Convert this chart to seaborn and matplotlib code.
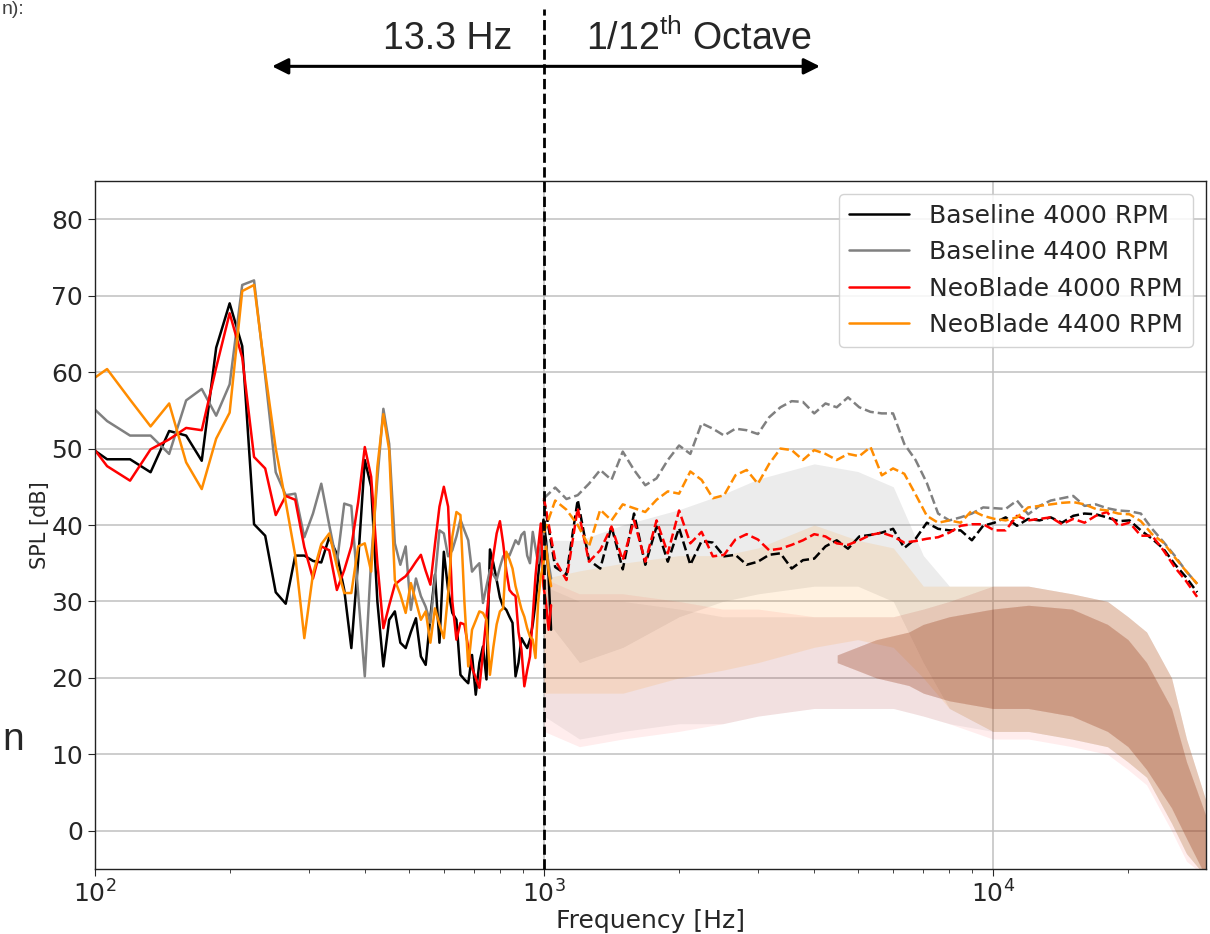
import numpy as np
import matplotlib
matplotlib.use("Agg")
import matplotlib.pyplot as plt
import seaborn as sns

sns.set_style("ticks")
plt.rcParams["font.family"] = ["DejaVu Sans"]

# ---- narrowband spectra below 1 kHz (13.3 Hz bins) ----
nb_freq = np.arange(7, 79) * 13.3

base4000_nb = [51.0, 48.6, 48.6, 46.9, 52.3, 51.7, 48.4, 63.2, 69.0, 63.4,
               40.1, 38.6, 31.2, 29.7, 36.0, 36.0, 35.3, 35.1, 38.4, 36.2,
               31.5, 23.9, 35.4, 48.5, 45.0, 30.0, 21.5, 27.6, 28.7, 24.6,
               23.9, 26.0, 27.8, 22.8, 21.7, 28.0, 33.5, 24.6, 36.5, 31.5,
               28.5, 27.6, 20.4, 19.8, 19.3, 23.0, 17.8, 22.0, 24.1, 19.8,
               36.8, 35.0, 32.8, 30.5, 29.3, 28.9, 28.0, 27.2, 20.2, 22.0,
               25.2, 24.5, 23.9, 25.0, 27.0, 29.8, 33.3, 37.0, 40.7, 38.0,
               33.3, 26.3]
base4400_nb = [56.8, 53.6, 51.7, 51.7, 49.3, 56.3, 57.8, 54.3, 58.4, 71.4,
               72.0, 59.5, 46.9, 43.9, 44.1, 38.4, 41.5, 45.4, 40.0, 35.0,
               42.8, 42.5, 31.0, 20.2, 35.5, 46.0, 55.2, 50.6, 37.6, 34.8,
               37.2, 28.9, 33.0, 30.7, 29.3, 27.2, 33.0, 39.3, 38.9, 35.9,
               36.7, 38.5, 40.7, 39.3, 38.0, 33.9, 34.5, 35.0, 29.8, 32.0,
               34.1, 33.5, 32.8, 34.5, 35.9, 36.3, 36.0, 37.0, 38.0, 37.5,
               38.7, 39.1, 36.0, 35.0, 39.1, 37.0, 35.0, 37.0, 38.9, 37.0,
               35.0, 33.0]
neo4000_nb = [52.2, 47.7, 45.8, 49.9, 51.2, 52.7, 52.4, 60.6, 67.7, 61.9,
              48.9, 47.4, 41.3, 43.8, 43.3, 37.1, 33.0, 37.2, 36.7, 31.5,
              34.1, 37.2, 43.0, 50.2, 46.3, 35.0, 26.5, 29.5, 32.2, 32.8,
              33.3, 34.2, 35.2, 36.1, 34.0, 32.2, 37.5, 42.4, 45.0, 42.4,
              30.0, 25.0, 27.2, 27.0, 24.0, 21.3, 20.0, 18.7, 23.3, 28.0,
              32.4, 36.0, 38.9, 40.5, 37.6, 34.0, 31.5, 31.0, 30.7, 26.0,
              23.7, 18.9, 21.0, 22.8, 28.0, 33.3, 37.0, 40.2, 32.0, 29.8,
              26.3, 29.5]
neo4400_nb = [58.0, 60.4, 56.4, 52.9, 55.9, 48.2, 44.7, 51.3, 54.7, 70.6,
              71.4, 60.0, 50.0, 43.0, 36.0, 25.2, 33.6, 37.5, 38.9, 34.6,
              31.1, 31.1, 37.2, 37.6, 33.9, 47.6, 54.5, 49.8, 32.8, 30.9,
              28.5, 32.4, 30.0, 27.6, 28.7, 24.6, 29.1, 27.0, 25.2, 31.0,
              38.5, 41.7, 41.3, 30.0, 21.5, 26.3, 27.5, 28.7, 28.5, 27.6,
              20.4, 24.0, 27.0, 28.7, 29.1, 36.5, 35.5, 34.3, 32.0, 30.5,
              29.0, 28.0, 26.5, 25.4, 25.0, 22.6, 30.0, 33.3, 35.0, 37.2,
              34.0, 32.0]

# ---- 1/12 octave bands above 1 kHz ----
oct_freq = 1000 * 2 ** (np.arange(59) / 12)

base4000_oct = [43.3, 34.5, 33.5, 43.3, 35.4, 34.3, 39.8, 34.2, 41.5, 34.8,
                39.8, 35.2, 39.6, 34.8, 37.9, 37.7, 35.9, 36.1, 34.8, 35.2,
                36.1, 36.3, 34.3, 35.4, 35.6, 37.2, 38.0, 36.9, 38.5, 38.7,
                39.0, 39.5, 37.0, 38.2, 40.3, 39.5, 39.3, 39.3, 38.0, 39.9,
                40.3, 41.0, 39.9, 40.8, 40.6, 41.0, 40.3, 41.2, 41.5, 41.4,
                41.0, 40.5, 40.6, 39.3, 38.2, 36.9, 34.9, 33.2, 31.2]
base4400_oct = [43.5, 44.9, 43.4, 43.9, 45.4, 47.2, 45.9, 49.6, 47.2, 45.2,
                46.1, 48.5, 50.4, 49.3, 53.3, 52.6, 51.7, 52.6, 52.4, 51.9,
                54.1, 55.4, 56.2, 56.1, 54.6, 55.9, 55.4, 56.7, 55.4, 54.8,
                54.6, 54.6, 50.6, 48.5, 45.5, 41.5, 40.6, 41.0, 41.5, 42.3,
                42.2, 42.1, 43.2, 41.4, 42.5, 43.2, 43.5, 43.8, 42.5, 42.7,
                42.2, 41.9, 41.8, 41.5, 39.5, 37.8, 36.0, 34.0, 32.3]
neo4000_oct = [43.5, 35.4, 32.8, 42.2, 35.2, 36.7, 39.8, 35.4, 40.6, 35.2,
               40.6, 36.3, 41.9, 37.6, 39.1, 35.9, 36.1, 38.1, 38.8, 38.1,
               36.7, 36.9, 37.4, 38.0, 38.8, 38.5, 37.6, 37.4, 38.0, 38.7,
               39.0, 38.5, 37.7, 37.9, 38.2, 38.4, 39.0, 39.9, 40.1, 40.1,
               39.3, 39.3, 41.2, 40.6, 40.8, 41.0, 40.1, 40.8, 40.3, 41.2,
               41.7, 39.9, 40.3, 38.6, 38.6, 36.7, 34.5, 32.7, 30.6]
neo4400_oct = [39.0, 43.2, 42.0, 40.0, 37.2, 42.0, 40.6, 42.7, 42.2, 41.7,
               43.3, 44.4, 44.1, 47.0, 45.9, 43.5, 43.9, 46.5, 47.2, 45.4,
               48.0, 50.0, 49.8, 48.5, 49.8, 49.3, 48.5, 49.3, 49.0, 50.2,
               46.5, 47.4, 46.7, 44.0, 41.2, 40.3, 40.6, 40.3, 41.9, 41.2,
               40.8, 40.6, 41.0, 42.3, 42.5, 42.7, 42.9, 43.0, 42.7, 42.1,
               41.9, 41.5, 41.4, 40.5, 38.8, 37.7, 35.8, 34.0, 32.3]

# ---- faint narrowband spectra above 1 kHz, drawn as min / max envelopes ----
env_freq = [1000, 1200, 1500, 2000, 2500, 3000, 4000, 5000, 6000, 7000,
            8000, 10000, 12000, 15000, 18000, 20000, 22000, 25000, 27000, 29800]
base4400_lo = [28, 22, 24, 28, 30, 31, 32, 32, 30, 22,
               16, 13, 13, 12, 11, 9, 7, 1, -3, -6]
base4400_hi = [38, 38, 40, 42, 44, 46, 48, 47, 45, 36,
               32, 32, 32, 31, 30, 28, 26, 20, 12, 4]
neo4400_lo = [18, 18, 18, 20, 21, 22, 24, 25, 24, 20,
              16, 13, 13, 12, 11, 9, 7, 1, -3, -6]
neo4400_hi = [33, 34, 35, 36, 36, 37, 40, 38, 37, 32,
              32, 32, 32, 31, 30, 28, 26, 20, 12, 4]
base4000_lo = [15, 12, 13, 14, 14, 15, 16, 16, 16, 15,
               14, 13, 13, 12, 11, 9, 7, 1, -3, -6]
base4000_hi = [32, 30, 30, 29, 28, 28, 28, 28, 28, 29,
               30, 32, 32, 31, 30, 28, 26, 20, 12, 4]
neo4000_lo = [13, 11, 12, 13, 14, 15, 16, 16, 16, 15,
              14, 12, 12, 11, 10, 8, 6, 0, -4, -6]
neo4000_hi = [33, 31, 31, 30, 29, 29, 28, 28, 28, 29,
              30, 32, 32, 31, 30, 28, 26, 20, 12, 4]

# dense part of the narrowband spectra at high frequency (all four overlap)
core_freq = [4500, 5500, 6500, 7000, 8000, 10000, 12000, 15000, 18000,
             20000, 22000, 25000, 27000, 29800]
core_lo = [22, 20, 19, 18, 17, 16, 16, 15, 13, 11, 8, 3, -1, -6]
core_hi = [23, 25, 26, 27, 28, 29, 29.5, 29, 27, 25, 22, 16, 9, 2]

names = ["Baseline 4000 RPM", "Baseline 4400 RPM",
         "NeoBlade 4000 RPM", "NeoBlade 4400 RPM"]
colors = ["black", "grey", "red", "darkorange"]
sparse_alpha = [0.05, 0.15, 0.07, 0.12]
nb_data = [base4000_nb, base4400_nb, neo4000_nb, neo4400_nb]
oct_data = [base4000_oct, base4400_oct, neo4000_oct, neo4400_oct]
env_data = [(base4000_lo, base4000_hi), (base4400_lo, base4400_hi),
            (neo4000_lo, neo4000_hi), (neo4400_lo, neo4400_hi)]

fig = plt.figure(figsize=(12.1, 9.34), dpi=100)
ax = fig.add_axes([0.0785, 0.0696, 0.918, 0.7366])

# faint background spectra
for (lo, hi), c, a in zip(env_data, colors, sparse_alpha):
    ax.fill_between(env_freq, lo, hi, color=c, alpha=a, lw=0)
for c in ["grey", "darkorange", "red", "black"]:
    ax.fill_between(core_freq, core_lo, core_hi, color=c, alpha=0.09, lw=0)

for vals, c, name in zip(nb_data, colors, names):
    sns.lineplot(x=nb_freq, y=vals, color=c, lw=1.8, label=name,
                 estimator=None, ax=ax)
for vals, c in zip(oct_data, colors):
    sns.lineplot(x=oct_freq, y=vals, color=c, lw=1.8, linestyle="--",
                 estimator=None, legend=False, ax=ax)

ax.set_xscale("log")
ax.set_xlim(100, 29800)
ax.set_ylim(-5, 85)
ax.set_yticks(range(0, 81, 10))
ax.grid(True, which="major", color="#c0c0c0", lw=1.1)
ax.tick_params(labelsize=18, length=5)
ax.tick_params(which="minor", length=3)
for s in ax.spines.values():
    s.set_color("#222222")
    s.set_linewidth(1.0)
ax.set_xlabel("Frequency [Hz]", fontsize=18, labelpad=1)
ax.set_ylabel("SPL [dB]", fontsize=15, labelpad=1)

leg = ax.legend(loc="upper right", fontsize=18, handlelength=2.4,
                framealpha=0.85, borderaxespad=0.5)

# split marker at 1 kHz, extended above the axes
ax.axvline(1000, ymin=0, ymax=1.25, color="black", lw=2, ls="--",
           clip_on=False, zorder=5)
ax.annotate("", xy=(248, 100), xytext=(4119, 100), xycoords="data",
            arrowprops=dict(arrowstyle="<|-|>", color="black", lw=2.2,
                            mutation_scale=24, shrinkA=0, shrinkB=0),
            annotation_clip=False)
ax.text(611, 103.6, "13.3 Hz", ha="center", va="center", fontsize=27,
        family="Liberation Sans", clip_on=False)
ax.text(2220, 103.6, "1/12$^{\\mathregular{th}}$ Octave", ha="center",
        va="center", fontsize=27, family="Liberation Sans", clip_on=False)

# slide fragments
fig.text(0.002, 1 - 740 / 934, "n", fontsize=28, family="Liberation Sans",
         va="center")
fig.text(0.001, 0.999, "n):", fontsize=14, family="Liberation Sans",
         va="top", color="#404040")

fig.savefig("out.png", dpi=100)
